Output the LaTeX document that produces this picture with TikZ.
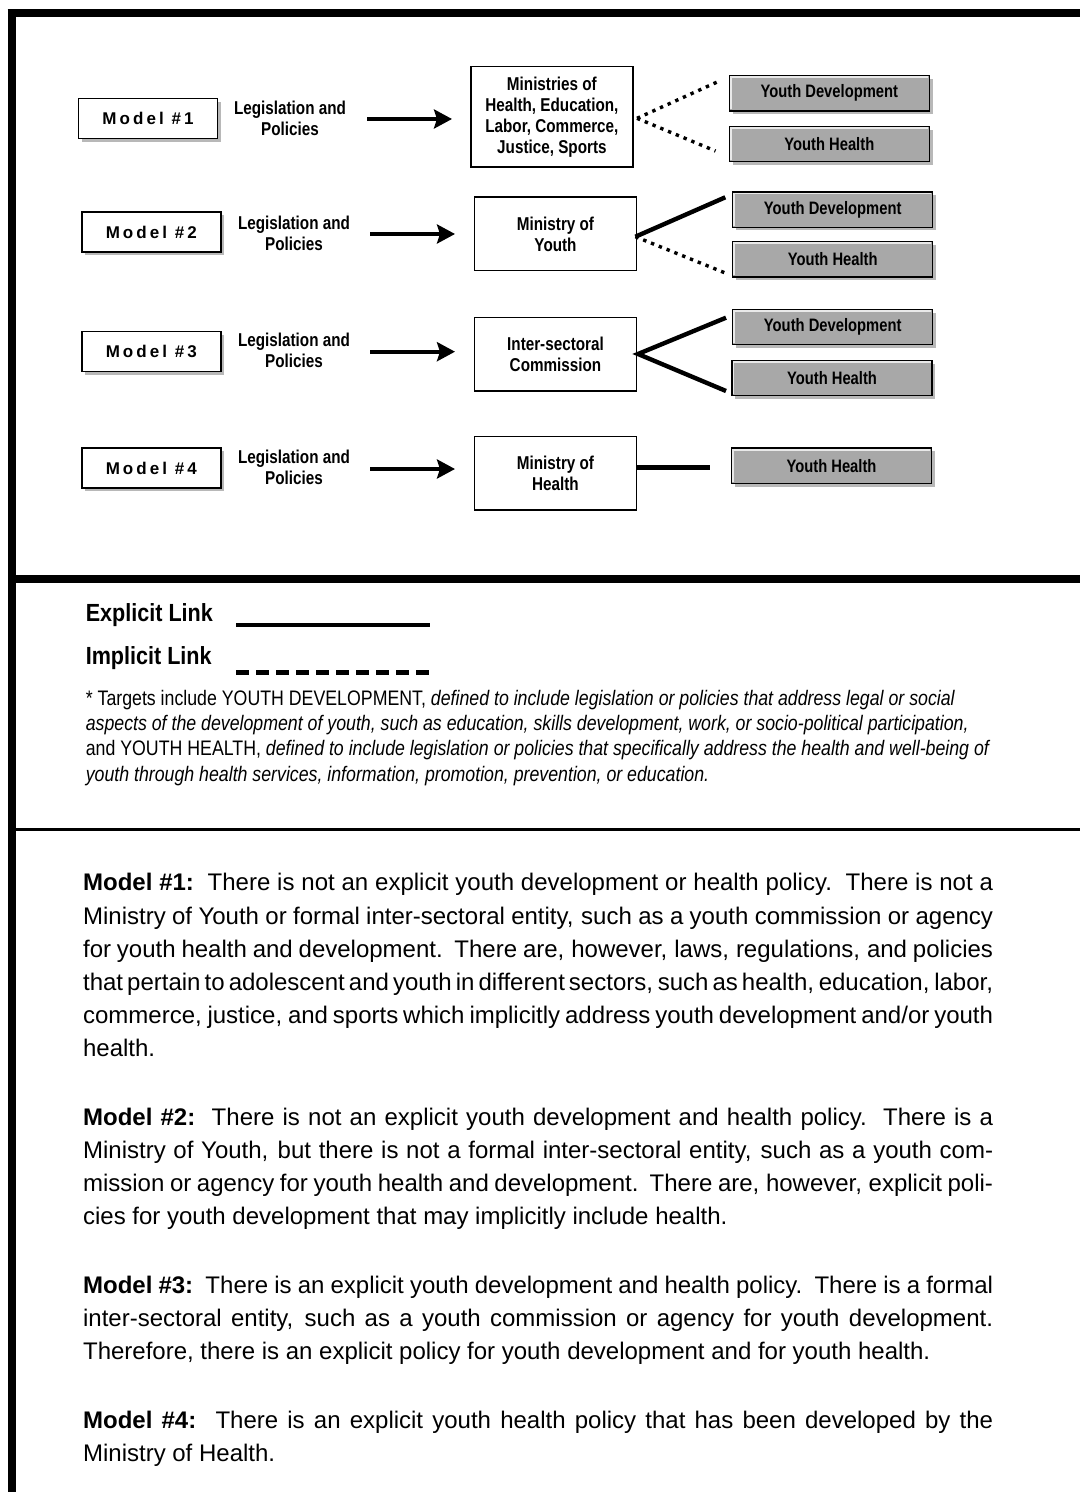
\documentclass[tikz,border=0pt]{standalone}
\usepackage{fontspec}
\setmainfont{Liberation Sans}
\newfontfamily\condf[FakeStretch=0.82]{Liberation Sans}
\newfontfamily\footf[FakeStretch=0.845]{Liberation Sans}
\newfontfamily\legendf[FakeStretch=0.87]{Liberation Sans}
\newfontfamily\spacedf[LetterSpace=18]{Liberation Sans}
\usetikzlibrary{arrows.meta,shadows}
\newcommand\jline[1]{\makebox[455pt][s]{\spaceskip=0.06em plus 1fil\relax #1}}
\definecolor{boxgray}{RGB}{168,168,168}
\begin{document}
\begin{tikzpicture}[x=0.5pt,y=-0.5pt,
  shad/.style={drop shadow={shadow xshift=1.6pt,shadow yshift=-1.6pt,opacity=0.28,fill=black}},
  modelbox/.style={draw,line width=0.75pt,fill=white,minimum width=69.5pt,minimum height=20pt,inner sep=0pt,shad,
    font=\spacedf\bfseries\fontsize{8.5}{10}\selectfont},
  leglbl/.style={align=center,inner sep=0pt,font=\condf\bfseries\fontsize{9.3}{10.5}\selectfont},
  midbox/.style={draw,line width=0.8pt,fill=white,minimum width=81pt,inner sep=0pt,align=center,
    font=\condf\bfseries\fontsize{9.3}{10.5}\selectfont},
  graybox/.style={draw,line width=0.75pt,fill=boxgray,minimum width=100pt,minimum height=17.6pt,inner sep=0pt,shad,
    font=\condf\bfseries\fontsize{9}{10}\selectfont,
    path picture={\draw[white!75!boxgray,line width=0.9pt]
      ([xshift=0.7pt,yshift=0.7pt]path picture bounding box.south west) |-
      ([xshift=-0.7pt,yshift=-0.7pt]path picture bounding box.north east);}},
  arr/.style={line width=2pt,-{Stealth[length=9pt,width=9.5pt,inset=1.5pt]}},
  solidlink/.style={line width=2.2pt},
  dotlink/.style={line width=1.7pt,dash pattern=on 1.7pt off 2.5pt},
  legtxt/.style={anchor=base west,inner sep=0pt,font=\legendf\bfseries\fontsize{12.4}{14}\selectfont},
  foot/.style={anchor=base west,inner sep=0pt,font=\footf\fontsize{10.5}{12.5}\selectfont},
  body/.style={anchor=base west,inner sep=0pt,font=\fontsize{12}{16.6}\selectfont}]

\useasboundingbox (0,0) rectangle (1080,1492);
\fill[white] (0,0) rectangle (1080,1492);

% frame lines
\draw[line width=4pt] (11.5,9.3) -- (11.5,1492);
\draw[line width=3.7pt] (7.5,13) -- (1080,13);
\draw[line width=3.85pt] (13,578.8) -- (1080,578.8);
\draw[line width=1.15pt] (13,829.5) -- (1080,829.5);

% model boxes
\node[modelbox] (m1) at (148,118.5) {Model \#1};
\node[modelbox] (m2) at (151.3,232.2) {Model \#2};
\node[modelbox] (m3) at (151.3,351.7) {Model \#3};
\node[modelbox] (m4) at (151.3,468) {Model \#4};

% legislation labels
\node[leglbl] (l1) at (290,118.8) {Legislation and\\Policies};
\node[leglbl] (l2) at (294,233.2) {Legislation and\\Policies};
\node[leglbl] (l3) at (294,350.5) {Legislation and\\Policies};
\node[leglbl] (l4) at (294,467.5) {Legislation and\\Policies};

% middle boxes
\node[midbox,minimum height=50.3pt] (c1) at (551.9,117) {Ministries of\\Health, Education,\\Labor, Commerce,\\Justice, Sports};
\node[midbox,minimum height=36.7pt] (c2) at (555.5,234) {Ministry of\\Youth};
\node[midbox,minimum height=36.7pt] (c3) at (555.5,354.3) {Inter-sectoral\\Commission};
\node[midbox,minimum height=36.7pt] (c4) at (555.5,473.3) {Ministry of\\Health};

% target boxes
\node[graybox] (yd1) at (829.3,93.2) {Youth Development};
\node[graybox] (yh1) at (829.3,144) {Youth Health};
\node[graybox] (yd2) at (832.7,209.7) {Youth Development};
\node[graybox] (yh2) at (832.7,259.3) {Youth Health};
\node[graybox] (yd3) at (832.7,327) {Youth Development};
\node[graybox] (yh3) at (832,378) {Youth Health};
\node[graybox] (yh4) at (831.5,465.8) {Youth Health};

% arrows
\coordinate (a1s) at (367,119);   \coordinate (a1e) at (452,119);
\coordinate (a2s) at (370,234);   \coordinate (a2e) at (455,234);
\coordinate (a3s) at (370,351.7); \coordinate (a3e) at (455,351.7);
\coordinate (a4s) at (370,469);   \coordinate (a4e) at (455,469);
\draw[arr] (a1s) -- (a1e);
\draw[arr] (a2s) -- (a2e);
\draw[arr] (a3s) -- (a3e);
\draw[arr] (a4s) -- (a4e);

% links
\coordinate (j1) at (637,118.3);  \coordinate (e1a) at (721,80.3);  \coordinate (e1b) at (715.5,151);
\coordinate (j2) at (635.4,236.7);\coordinate (e2a) at (725.3,197.3);\coordinate (e2b) at (726,273.3);
\coordinate (j3) at (638,354);    \coordinate (e3a) at (726,317.7); \coordinate (e3b) at (726,391);
\coordinate (j4) at (636.4,467.3);\coordinate (e4) at (709.8,467.3);
\draw[dotlink] (j1) -- (e1a);
\draw[dotlink] (j1) -- (e1b);
\draw[solidlink] (j2) -- (e2a);
\draw[dotlink] (j2) -- (e2b);
\draw[solidlink] (e3a) -- (j3) -- (e3b);
\draw[solidlink] (j4) -- (e4);

% legend
\node[legtxt] (exl) at (85.4,621) {Explicit Link};
\node[legtxt] (iml) at (85.4,664) {Implicit Link};
\coordinate (ex1) at (236,625); \coordinate (ex2) at (430,625);
\coordinate (im1) at (236,672.5); \coordinate (im2) at (430,672.5);
\draw[line width=1.65pt] (ex1) -- (ex2);
\draw[line width=2.5pt,dash pattern=on 6.6pt off 3.4pt] (im1) -- (im2);

% footnote
\node[foot] (f1) at (85.4,705.7) {* Targets include YOUTH DEVELOPMENT, \textit{defined to include legislation or policies that address legal or social}};
\node[foot] (f2) at (85.4,730.8) {\textit{aspects of the development of youth, such as education, skills development, work, or socio-political participation,}};
\node[foot] (f3) at (85.4,755.9) {and YOUTH HEALTH, \textit{defined to include legislation or policies that specifically address the health and well-being of}};
\node[foot] (f4) at (85.4,781) {\textit{youth through health services, information, promotion, prevention, or education.}};

% body text
\node[body] (p1a) at (82.7,890.7) {\jline{\textbf{Model \#1:}\ \ There is not an explicit youth development or health policy.\ \ There is not a}};
\node[body] (p1b) at (82.7,924) {\jline{Ministry of Youth or formal inter-sectoral entity, such as a youth commission or agency}};
\node[body] (p1c) at (82.7,957.2) {\jline{for youth health and development.\ \ There are, however, laws, regulations, and policies}};
\node[body] (p1d) at (82.7,990.4) {\jline{that pertain to adolescent and youth in different sectors, such as health, education, labor,}};
\node[body] (p1e) at (82.7,1023.6) {\jline{commerce, justice, and sports which implicitly address youth development and/or youth}};
\node[body] (p1f) at (82.7,1056.8) {health.};

\node[body] (p2a) at (82.7,1125) {\jline{\textbf{Model \#2:}\ \ There is not an explicit youth development and health policy.\ \ There is a}};
\node[body] (p2b) at (82.7,1158.2) {\jline{Ministry of Youth, but there is not a formal inter-sectoral entity, such as a youth com-}};
\node[body] (p2c) at (82.7,1191.4) {\jline{mission or agency for youth health and development.\ \ There are, however, explicit poli-}};
\node[body] (p2d) at (82.7,1224.6) {cies for youth development that may implicitly include health.};

\node[body] (p3a) at (82.7,1293.4) {\jline{\textbf{Model \#3:}\ \ There is an explicit youth development and health policy.\ \ There is a formal}};
\node[body] (p3b) at (82.7,1326.6) {\jline{inter-sectoral entity, such as a youth commission or agency for youth development.}};
\node[body] (p3c) at (82.7,1359.8) {Therefore, there is an explicit policy for youth development and for youth health.};

\node[body] (p4a) at (82.7,1428.5) {\jline{\textbf{Model \#4:} There is an explicit youth health policy that has been developed by the}};
\node[body] (p4b) at (82.7,1461.7) {Ministry of Health.};
\end{tikzpicture}
\end{document}
